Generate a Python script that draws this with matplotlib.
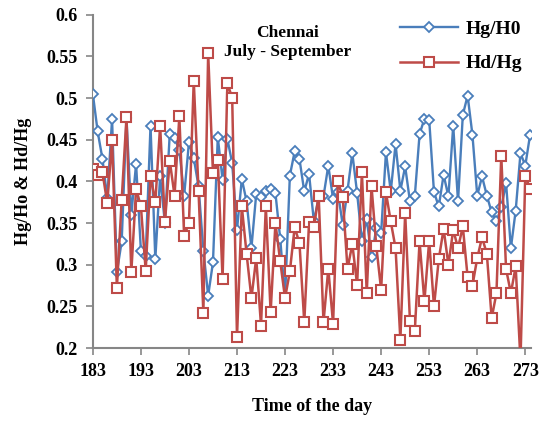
import matplotlib.pyplot as plt
import numpy as np

plt.rcParams['font.family'] = 'Liberation Serif'
plt.rcParams['font.weight'] = 'bold'

days = np.arange(183, 275)

hg_h0 = [0.505, 0.46, 0.427, 0.38, 0.475, 0.291, 0.328, 0.476, 0.36, 0.421,
         0.317, 0.311, 0.467, 0.307, 0.406, 0.35, 0.457, 0.452, 0.438, 0.383,
         0.447, 0.428, 0.394, 0.317, 0.263, 0.303, 0.453, 0.402, 0.451, 0.422,
         0.342, 0.403, 0.376, 0.32, 0.385, 0.381, 0.389, 0.391, 0.386, 0.331,
         0.26, 0.407, 0.436, 0.427, 0.388, 0.409, 0.352, 0.381, 0.382, 0.419,
         0.379, 0.387, 0.348, 0.389, 0.434, 0.386, 0.329, 0.355, 0.309, 0.344,
         0.338, 0.435, 0.388, 0.445, 0.389, 0.418, 0.376, 0.382, 0.457, 0.475,
         0.474, 0.387, 0.37, 0.408, 0.382, 0.467, 0.376, 0.48, 0.503, 0.456,
         0.383, 0.406, 0.383, 0.363, 0.352, 0.369, 0.398, 0.32, 0.365, 0.434,
         0.419, 0.456]

hd_hg = [0.415, 0.408, 0.411, 0.374, 0.45, 0.272, 0.378, 0.477, 0.291, 0.391,
         0.37, 0.293, 0.407, 0.375, 0.467, 0.351, 0.425, 0.383, 0.478, 0.335,
         0.35, 0.521, 0.388, 0.242, 0.554, 0.41, 0.426, 0.283, 0.518, 0.5,
         0.213, 0.37, 0.313, 0.26, 0.308, 0.227, 0.37, 0.243, 0.35, 0.304,
         0.26, 0.292, 0.345, 0.326, 0.231, 0.351, 0.345, 0.383, 0.231, 0.295,
         0.229, 0.4, 0.381, 0.295, 0.325, 0.276, 0.411, 0.266, 0.394, 0.322,
         0.27, 0.387, 0.352, 0.32, 0.21, 0.362, 0.232, 0.22, 0.328, 0.256,
         0.329, 0.25, 0.307, 0.343, 0.3, 0.342, 0.32, 0.346, 0.285, 0.275,
         0.308, 0.333, 0.313, 0.236, 0.266, 0.431, 0.295, 0.266, 0.298, 0.185,
         0.407, 0.391]

xticks = np.arange(183, 274, 10)
yticks = [0.2, 0.25, 0.3, 0.35, 0.4, 0.45, 0.5, 0.55, 0.6]
ytick_labels = ['0.2', '0.25', '0.3', '0.35', '0.4', '0.45', '0.5', '0.55', '0.6']

blue = '#4a7ebb'
red = '#be4b48'
grey = '#868686'

fig = plt.figure(figsize=(5.43, 4.23), dpi=100)
ax = fig.add_axes([0.171, 0.177, 0.807, 0.788])

ax.plot(days, hg_h0, color=blue, lw=1.7, marker='D', ms=4.8, mfc='white',
        mec=blue, mew=1.3, label='Hg/H0', zorder=3)
ax.plot(days, hd_hg, color=red, lw=1.8, marker='s', ms=6.5, mfc='white',
        mec=red, mew=1.5, label='Hd/Hg', zorder=4)

ax.set_xlim(183, 274.2)
ax.set_ylim(0.2, 0.6)
ax.set_xticks(xticks)
ax.set_yticks(yticks)
ax.set_yticklabels(ytick_labels)
ax.tick_params(labelsize=13, direction='out', length=5, width=1.2, color=grey, pad=6)

for s in ['top', 'right']:
    ax.spines[s].set_visible(False)
for s in ['left', 'bottom']:
    ax.spines[s].set_color(grey)
    ax.spines[s].set_linewidth(1.5)

ax.set_xlabel('Time of the day', fontsize=13, fontweight='bold', labelpad=13)
ax.set_ylabel('Hg/Ho & Hd/Hg', fontsize=13, fontweight='bold', labelpad=10)

ax.text(0.445, 0.97, 'Chennai\nJuly - September', transform=ax.transAxes,
        ha='center', va='top', fontsize=12.5, fontweight='bold', linespacing=1.3)

ax.legend(loc='upper right', bbox_to_anchor=(1.02, 1.035), frameon=False,
          fontsize=14, handlelength=3, labelspacing=0.85, handletextpad=0.4)

fig.savefig('out.png', dpi=100)
